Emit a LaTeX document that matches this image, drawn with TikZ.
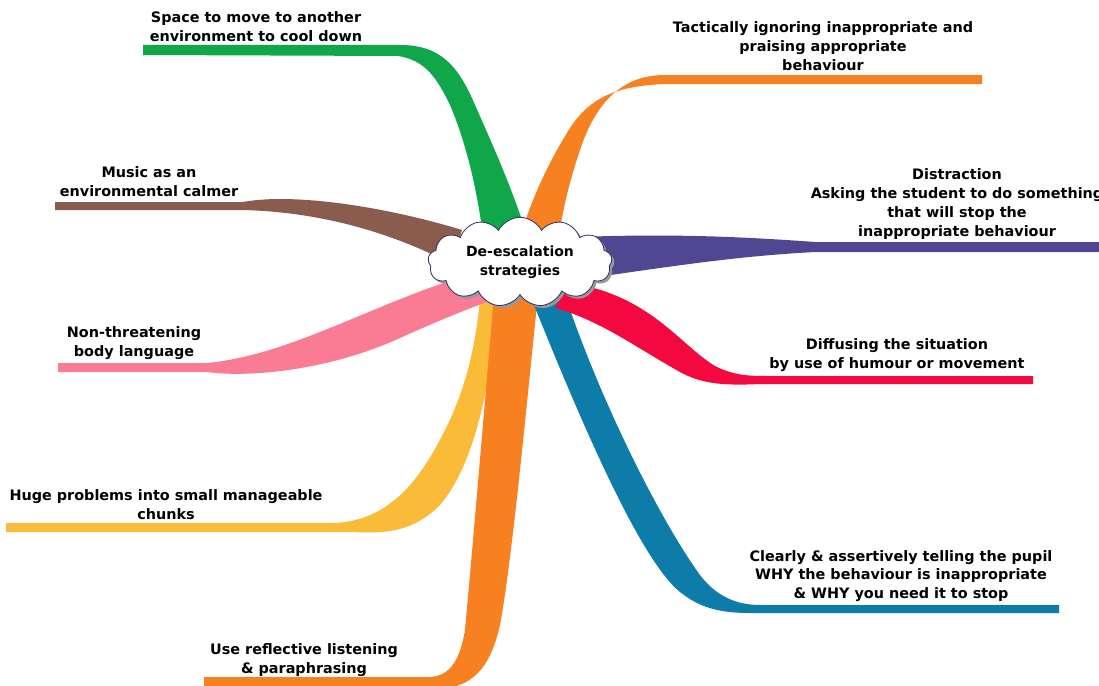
\documentclass[tikz,border=0pt]{standalone}
\usepackage{fontspec}
\setmainfont{DejaVu Sans}
\usetikzlibrary{shapes.symbols,shadows}
\definecolor{cgreen}{RGB}{16,166,74}
\definecolor{corange}{RGB}{247,128,32}
\definecolor{cbrown}{RGB}{138,92,78}
\definecolor{cpurple}{RGB}{80,70,146}
\definecolor{cpink}{RGB}{249,124,148}
\definecolor{cred}{RGB}{243,8,64}
\definecolor{cyellow}{RGB}{250,188,56}
\definecolor{cblue}{RGB}{14,124,168}
\definecolor{cloudline}{RGB}{45,45,95}
\begin{document}
\begin{tikzpicture}[x=1pt,y=-1pt,
  lbl/.style={font=\bfseries\fontsize{14.4}{18.8}\selectfont, align=center, inner sep=0pt, text=black},
  centre/.style={cloud, cloud puffs=13, cloud puff arc=125, aspect=2.2,
    minimum width=184pt, minimum height=82pt, inner sep=0pt,
    draw=cloudline, line width=0.8pt, fill=white,
    drop shadow={shadow xshift=2.5pt, shadow yshift=-2.5pt, fill=gray!80, opacity=1},
    font=\bfseries\fontsize{14}{18.5}\selectfont, align=center}]
\useasboundingbox (0,0) rectangle (1099,685);
\clip (0,0) rectangle (1099,685);

% free ends of the branches
\coordinate (gEnd) at (143,50);
\coordinate (oEnd) at (982,80);
\coordinate (bEnd) at (55,206);
\coordinate (pEnd) at (1099,247);
\coordinate (kEnd) at (58,368);
\coordinate (rEnd) at (1033,380);
\coordinate (yEnd) at (6,528);
\coordinate (uEnd) at (1059,609);
\coordinate (qEnd) at (204,682);

% yellow
\fill[cyellow] (6,523) -- (335,523) .. controls (390,520) and (420,480) .. (445,430)
  .. controls (465,390) and (475,350) .. (480,300) -- (498,300)
  .. controls (490,400) and (470,470) .. (440,505)
  .. controls (410,535) and (380,533) .. (350,532) -- (6,532) -- cycle;
% orange bottom
\fill[corange] (204,677) -- (430,677) .. controls (450,676) and (460,660) .. (465,630)
  .. controls (475,520) and (485,400) .. (494,295) -- (538,295)
  .. controls (525,420) and (512,560) .. (500,625)
  .. controls (490,670) and (470,688) .. (440,688) -- (204,688) -- cycle;
% blue
\fill[cblue] (1059,605) -- (760,605) .. controls (735,605) and (715,595) .. (700,575)
  .. controls (660,520) and (600,400) .. (565,295) -- (530,295)
  .. controls (580,420) and (640,560) .. (680,592)
  .. controls (700,608) and (720,613) .. (750,613) -- (1059,613) -- cycle;
% red
\fill[cred] (570,283) .. controls (650,295) and (680,345) .. (715,366)
  .. controls (735,376) and (750,376) .. (770,376) -- (1033,376) -- (1033,384) -- (760,384)
  .. controls (720,386) and (700,383) .. (680,372)
  .. controls (640,350) and (600,320) .. (555,308) -- cycle;
% purple
\fill[cpurple] (580,237) .. controls (680,233) and (760,238) .. (815,242) -- (1099,242)
  -- (1099,252) -- (815,252) .. controls (740,256) and (680,265) .. (590,278) -- cycle;
% pink
\fill[cpink] (58,363) -- (207,363) .. controls (290,355) and (370,305) .. (465,276)
  -- (492,300) .. controls (470,308) and (440,320) .. (400,338)
  .. controls (330,370) and (250,378) .. (207,372) -- (58,372) -- cycle;
% brown
\fill[cbrown] (55,202) -- (243,202) .. controls (290,193) and (380,205) .. (462,230)
  -- (452,264) .. controls (390,232) and (320,212) .. (243,210) -- (55,210) -- cycle;
% green
\fill[cgreen] (143,45) -- (400,45) .. controls (440,45) and (458,65) .. (475,105)
  .. controls (495,150) and (515,195) .. (530,245)
  -- (484,245) .. controls (478,190) and (465,140) .. (450,105)
  .. controls (437,78) and (425,60) .. (398,56) -- (143,55) -- cycle;
% orange top
\fill[corange] (982,75) -- (665,75) .. controls (620,75) and (595,105) .. (580,150)
  .. controls (570,180) and (562,210) .. (558,245)
  -- (518,245) .. controls (530,200) and (550,160) .. (570,128)
  .. controls (590,98) and (615,86) .. (665,84) -- (982,84) -- cycle;

% centre
\node[centre] (hub) at (520,262) {De-escalation\\strategies};

% labels
\node[lbl] (gLab) at (256,27) {Space to move to another\\environment to cool down};
\node[lbl] (oLab) at (823,46) {Tactically ignoring inappropriate and\\praising appropriate\\behaviour};
\node[lbl] (pLab) at (957,204) {Distraction\\Asking the student to do something\\that will stop the\\inappropriate behaviour};
\node[lbl] (bLab) at (149,182) {Music as an\\environmental calmer};
\node[lbl] (kLab) at (134,343) {Non-threatening\\body language};
\node[lbl] (rLab) at (897,355) {Diffusing the situation\\by use of humour or movement};
\node[lbl] (yLab) at (166,505) {Huge problems into small manageable\\chunks};
\node[lbl] (qLab) at (304,660) {Use reflective listening\\\& paraphrasing};
\node[lbl] (uLab) at (901,576) {Clearly \& assertively telling the pupil\\WHY the behaviour is inappropriate\\\& WHY you need it to stop};
\end{tikzpicture}
\end{document}
